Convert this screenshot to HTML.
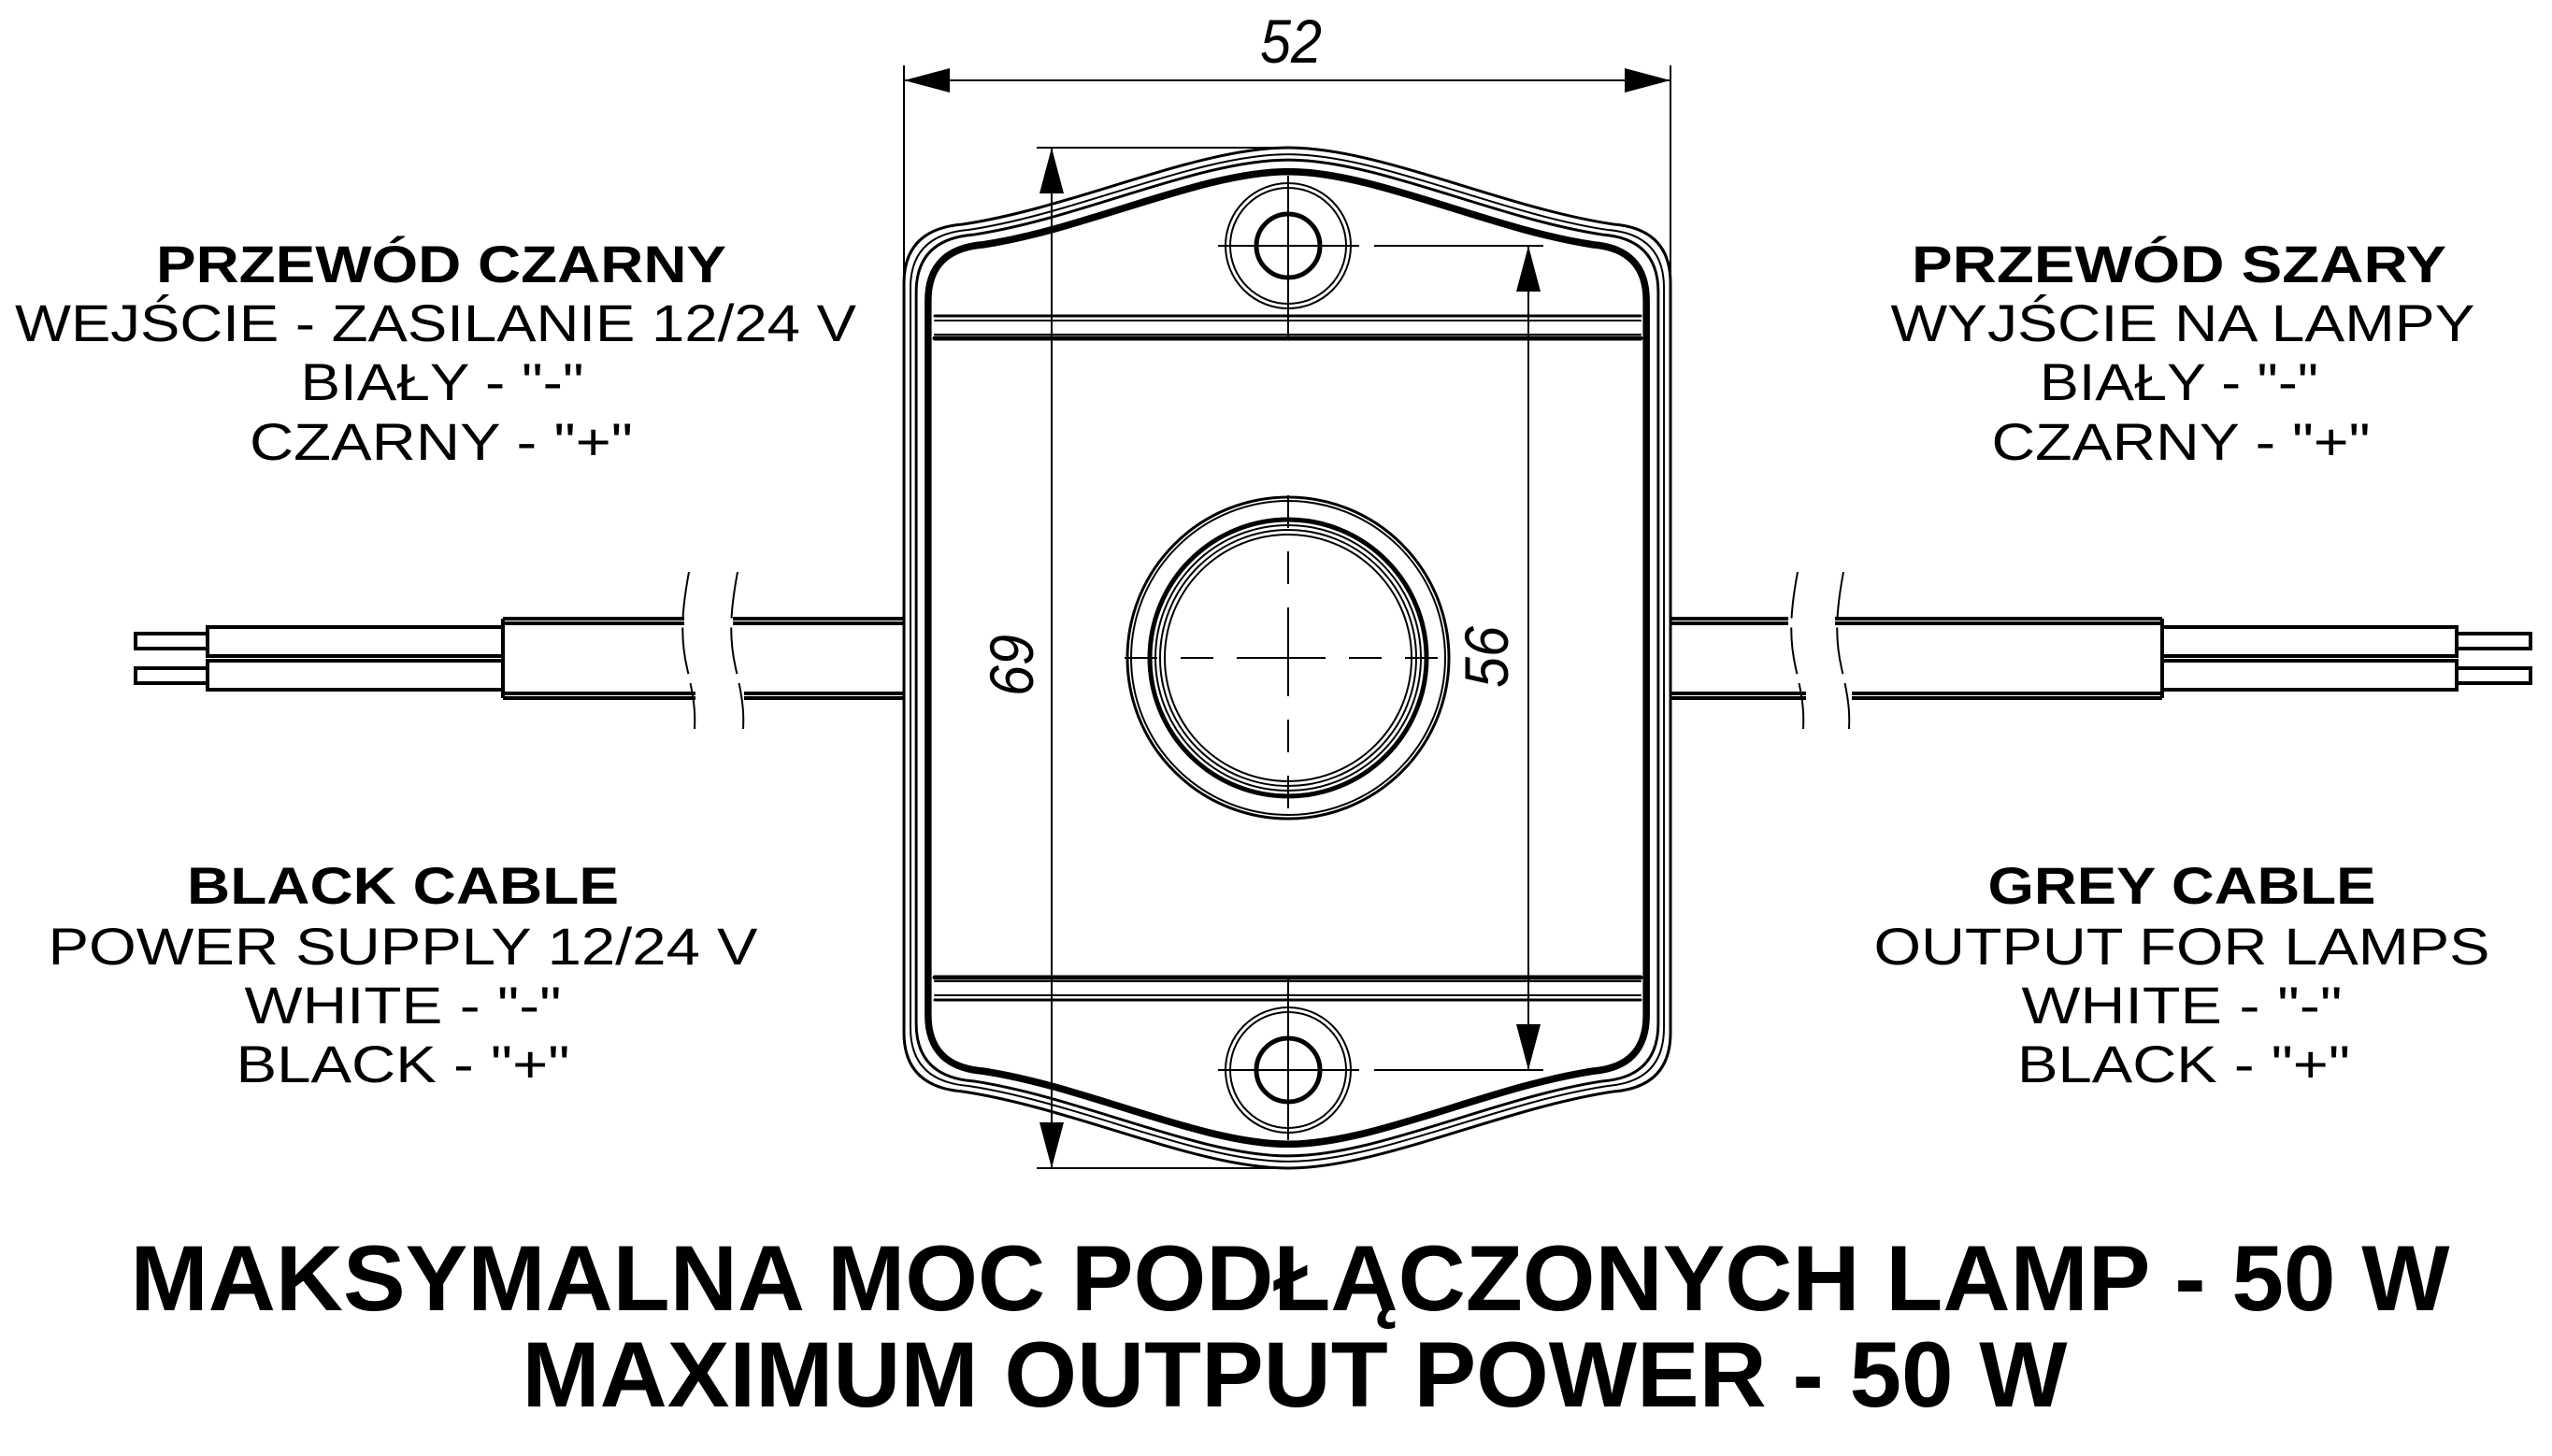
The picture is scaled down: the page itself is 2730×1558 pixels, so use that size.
<!DOCTYPE html>
<html><head><meta charset="utf-8"><style>html,body{margin:0;padding:0;background:#fff}svg{display:block}</style></head>
<body>
<svg width="2730" height="1558" viewBox="0 0 2730 1558" xmlns="http://www.w3.org/2000/svg">
<defs>
<path id="body" d="M967,303 Q967,245 1030,240 C1150,222 1280,158 1378,158 C1476,158 1606,222 1726,240 Q1787,245 1787,303 L1787,1105 Q1787,1163 1726,1168 C1606,1186 1476,1250 1378,1250 C1280,1250 1150,1186 1030,1168 Q967,1163 967,1105 Z" fill="none"/>
</defs>
<rect width="2730" height="1558" fill="#fff"/>
<g stroke="#000" fill="none">
<use href="#body" stroke-width="3"/>
<use href="#body" stroke-width="2" transform="translate(1377 704) scale(0.983 0.987) translate(-1377 -704)"/>
<use href="#body" stroke-width="3" transform="translate(1377 704) scale(0.968 0.976) translate(-1377 -704)"/>
<use href="#body" stroke-width="8" transform="translate(1377 704) scale(0.937 0.953) translate(-1377 -704)"/>
<g stroke-linecap="round">
<line x1="1000" y1="338" x2="1755" y2="338" stroke-width="3"/>
<line x1="1000" y1="343" x2="1755" y2="343" stroke-width="2"/>
<line x1="1000" y1="358" x2="1755" y2="358" stroke-width="2"/>
<line x1="1000" y1="362" x2="1755" y2="362" stroke-width="5"/>
<line x1="1000" y1="1046" x2="1755" y2="1046" stroke-width="5"/>
<line x1="1000" y1="1050" x2="1755" y2="1050" stroke-width="2"/>
<line x1="1000" y1="1065" x2="1755" y2="1065" stroke-width="2"/>
<line x1="1000" y1="1070" x2="1755" y2="1070" stroke-width="3"/>
</g>
<circle cx="1378" cy="263" r="34" stroke-width="5"/>
<circle cx="1378" cy="263" r="62" stroke-width="2"/>
<circle cx="1378" cy="263" r="67" stroke-width="2"/>
<circle cx="1378" cy="1145" r="34" stroke-width="5"/>
<circle cx="1378" cy="1145" r="62" stroke-width="2"/>
<circle cx="1378" cy="1145" r="67" stroke-width="2"/>
<g stroke-width="2">
<line x1="1378" y1="188" x2="1378" y2="362"/>
<line x1="1303" y1="263" x2="1454" y2="263"/>
<line x1="1378" y1="1046" x2="1378" y2="1220"/>
<line x1="1303" y1="1145" x2="1454" y2="1145"/>
</g>
<circle cx="1378" cy="704" r="168" stroke-width="2"/>
<circle cx="1378" cy="704" r="172" stroke-width="3"/>
<circle cx="1378" cy="704" r="148" stroke-width="5"/>
<circle cx="1378" cy="704" r="142" stroke-width="2"/>
<circle cx="1378" cy="704" r="137" stroke-width="2"/>
<circle cx="1378" cy="704" r="132" stroke-width="2"/>
<g stroke-width="2">
<line x1="1203" y1="704" x2="1553" y2="704" stroke-dasharray="35 25"/>
<line x1="1378" y1="530" x2="1378" y2="880" stroke-dasharray="35 25"/>
<line x1="1338" y1="704" x2="1418" y2="704"/>
<line x1="1378" y1="664" x2="1378" y2="744"/>
</g>
<g stroke-width="2">
<line x1="967" y1="70" x2="967" y2="300"/>
<line x1="1787" y1="70" x2="1787" y2="300"/>
<line x1="967" y1="86" x2="1787" y2="86"/>
<line x1="1109" y1="158" x2="1378" y2="158"/>
<line x1="1109" y1="1250" x2="1378" y2="1250"/>
<line x1="1125" y1="158" x2="1125" y2="1250"/>
<line x1="1470" y1="263" x2="1651" y2="263"/>
<line x1="1470" y1="1145" x2="1651" y2="1145"/>
<line x1="1635" y1="263" x2="1635" y2="1145"/>
</g>
</g>
<g fill="#000">
<polygon points="967,86 1016,73 1016,99"/>
<polygon points="1787,86 1738,73 1738,99"/>
<polygon points="1125,158 1112,207 1138,207"/>
<polygon points="1125,1250 1112,1201 1138,1201"/>
<polygon points="1635,263 1622,312 1648,312"/>
<polygon points="1635,1145 1622,1096 1648,1096"/>
</g>
<g stroke="#000" fill="none" stroke-width="4">
<rect x="145" y="678" width="77" height="16"/>
<rect x="145" y="715" width="77" height="16"/>
<rect x="222" y="671" width="316" height="31"/>
<rect x="222" y="707" width="316" height="31"/>
<line x1="538" y1="662" x2="538" y2="747"/>
<line x1="538" y1="662" x2="732" y2="662"/><line x1="538" y1="667" x2="732" y2="667"/>
<line x1="784" y1="662" x2="967" y2="662"/><line x1="784" y1="667" x2="967" y2="667"/>
<line x1="538" y1="742" x2="744" y2="742"/><line x1="538" y1="747" x2="744" y2="747"/>
<line x1="796" y1="742" x2="967" y2="742"/><line x1="796" y1="747" x2="967" y2="747"/>
<rect x="2628" y="678" width="79" height="16"/>
<rect x="2628" y="715" width="79" height="16"/>
<rect x="2313" y="671" width="315" height="31"/>
<rect x="2313" y="707" width="315" height="31"/>
<line x1="2313" y1="662" x2="2313" y2="747"/>
<line x1="1787" y1="662" x2="1913" y2="662"/><line x1="1787" y1="667" x2="1913" y2="667"/>
<line x1="1963" y1="662" x2="2313" y2="662"/><line x1="1963" y1="667" x2="2313" y2="667"/>
<line x1="1787" y1="742" x2="1932" y2="742"/><line x1="1787" y1="747" x2="1932" y2="747"/>
<line x1="1981" y1="742" x2="2313" y2="742"/><line x1="1981" y1="747" x2="2313" y2="747"/>
</g>
<g stroke="#000" fill="none" stroke-width="2" stroke-dasharray="50 10">
<path d="M737,612 C730,650 727,680 735,715 C742,745 744,760 743,780"/>
<path d="M789,612 C782,650 779,680 787,715 C794,745 796,760 795,780"/>
<path d="M1923,612 C1916,650 1913,680 1921,715 C1928,745 1930,760 1929,780"/>
<path d="M1972,612 C1965,650 1962,680 1970,715 C1977,745 1979,760 1978,780"/>
</g>
<g font-family="Liberation Sans, sans-serif" font-style="italic" font-size="66" fill="#000" text-anchor="middle">
<text x="1381" y="67" textLength="66" lengthAdjust="spacingAndGlyphs">52</text>
<text transform="translate(1105 712) rotate(-90)" textLength="66" lengthAdjust="spacingAndGlyphs">69</text>
<text transform="translate(1613 703) rotate(-90)" textLength="66" lengthAdjust="spacingAndGlyphs">56</text>
</g>
<g font-family="Liberation Sans, sans-serif" font-size="56" fill="#000" text-anchor="middle">
<text x="472" y="302" font-weight="bold" textLength="610" lengthAdjust="spacingAndGlyphs">PRZEWÓD CZARNY</text>
<text x="466" y="365" textLength="900" lengthAdjust="spacingAndGlyphs">WEJŚCIE - ZASILANIE 12/24 V</text>
<text x="473" y="428" textLength="303" lengthAdjust="spacingAndGlyphs">BIAŁY - "-"</text>
<text x="472" y="492" textLength="410" lengthAdjust="spacingAndGlyphs">CZARNY - "+"</text>
<text x="2331" y="302" font-weight="bold" textLength="572" lengthAdjust="spacingAndGlyphs">PRZEWÓD SZARY</text>
<text x="2335" y="365" textLength="625" lengthAdjust="spacingAndGlyphs">WYJŚCIE NA LAMPY</text>
<text x="2331" y="428" textLength="298" lengthAdjust="spacingAndGlyphs">BIAŁY - "-"</text>
<text x="2333" y="492" textLength="405" lengthAdjust="spacingAndGlyphs">CZARNY - "+"</text>
<text x="431" y="967" font-weight="bold" textLength="462" lengthAdjust="spacingAndGlyphs">BLACK CABLE</text>
<text x="431" y="1032" textLength="759" lengthAdjust="spacingAndGlyphs">POWER SUPPLY 12/24 V</text>
<text x="431" y="1095" textLength="339" lengthAdjust="spacingAndGlyphs">WHITE - "-"</text>
<text x="431" y="1158" textLength="357" lengthAdjust="spacingAndGlyphs">BLACK - "+"</text>
<text x="2334" y="967" font-weight="bold" textLength="415" lengthAdjust="spacingAndGlyphs">GREY CABLE</text>
<text x="2334" y="1032" textLength="659" lengthAdjust="spacingAndGlyphs">OUTPUT FOR LAMPS</text>
<text x="2334" y="1095" textLength="343" lengthAdjust="spacingAndGlyphs">WHITE - "-"</text>
<text x="2336" y="1158" textLength="356" lengthAdjust="spacingAndGlyphs">BLACK - "+"</text>
<text x="1380" y="1402" font-size="99" font-weight="bold" textLength="2481" lengthAdjust="spacingAndGlyphs">MAKSYMALNA MOC PODŁĄCZONYCH LAMP - 50 W</text>
<text x="1385" y="1505" font-size="99" font-weight="bold" textLength="1653" lengthAdjust="spacingAndGlyphs">MAXIMUM OUTPUT POWER - 50 W</text>
</g>
</svg>
</body></html>
